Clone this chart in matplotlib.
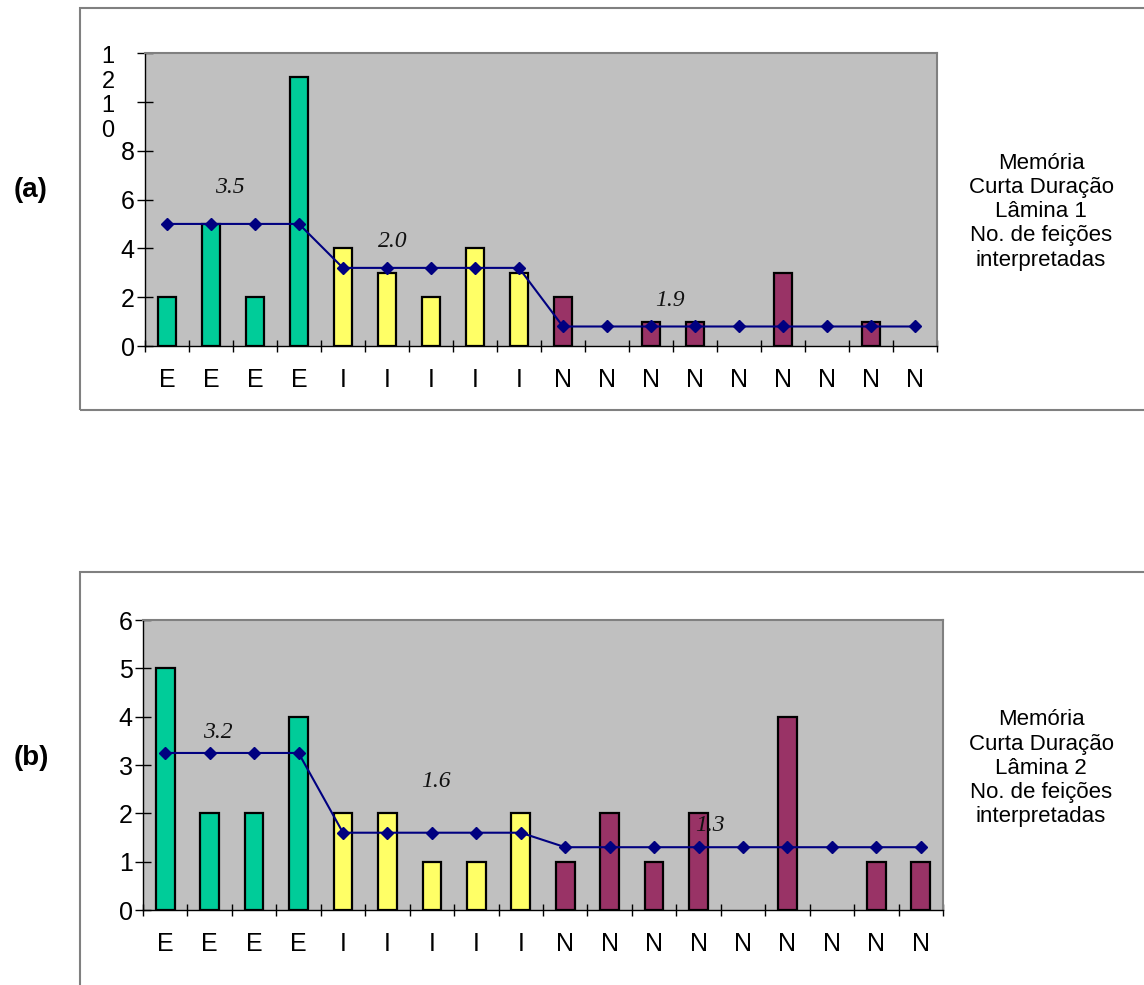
import numpy as np
import matplotlib.pyplot as plt
from matplotlib.patches import Rectangle
import matplotlib.transforms as mtransforms

plt.rcParams['font.family'] = ['Liberation Sans', 'DejaVu Sans']

# categories shared by both slides
cats = ['E', 'E', 'E', 'E', 'I', 'I', 'I', 'I', 'I',
        'N', 'N', 'N', 'N', 'N', 'N', 'N', 'N', 'N']

# Lâmina 1
vals1 = [2, 5, 2, 11, 4, 3, 2, 4, 3, 2, 0, 1, 1, 0, 3, 0, 1, 0]
mean1 = [5.0, 5.0, 5.0, 5.0, 3.2, 3.2, 3.2, 3.2, 3.2,
         0.8, 0.8, 0.8, 0.8, 0.8, 0.8, 0.8, 0.8, 0.8]
notes1 = ['3.5', '2.0', '1.9']
notes1_xy = [(1.43, 6.5), (5.14, 4.3), (11.43, 1.85)]
yticks1 = [0, 2, 4, 6, 8, 10, 12]
ylabels1 = ['0', '2', '4', '6', '8', '1\n0', '1\n2']

# Lâmina 2
vals2 = [5, 2, 2, 4, 2, 2, 1, 1, 2, 1, 2, 1, 2, 0, 4, 0, 1, 1]
mean2 = [3.25, 3.25, 3.25, 3.25, 1.6, 1.6, 1.6, 1.6, 1.6,
         1.3, 1.3, 1.3, 1.3, 1.3, 1.3, 1.3, 1.3, 1.3]
notes2 = ['3.2', '1.6', '1.3']
notes2_xy = [(1.19, 3.68), (6.09, 2.65), (12.26, 1.74)]
yticks2 = [0, 1, 2, 3, 4, 5, 6]

group_colors = {'E': '#00CC99', 'I': '#FFFF66', 'N': '#993366'}


def draw_panel(ax, vals, mean, notes, notes_xy, yticks):
    x = np.arange(len(cats))
    ax.set_facecolor('#C0C0C0')
    # empty bars get no outline
    lw = [1.6 if v > 0 else 0 for v in vals]
    ax.bar(x, vals, width=0.42, color=[group_colors[c] for c in cats],
           edgecolor='black', linewidth=lw, zorder=2)
    ax.plot(x, mean, color='#000080', linewidth=1.5, marker='D',
            markersize=6.5, zorder=3)
    for t, (tx, ty) in zip(notes, notes_xy):
        ax.text(tx, ty, t, fontsize=17, style='italic',
                family=['Liberation Serif', 'DejaVu Serif'],
                ha='center', va='center', color='#111111')
    ax.set_xlim(-0.5, len(cats) - 0.5)
    ax.set_ylim(yticks[0], yticks[-1])
    ax.set_xticks(x)
    ax.set_xticklabels(cats, fontsize=18)
    ax.set_xticks(np.arange(-0.5, len(cats), 1), minor=True)
    ax.tick_params(axis='x', which='major', length=0, pad=16)
    ax.tick_params(axis='x', which='minor', direction='inout', length=9,
                   width=1)
    ax.set_yticks(yticks)
    ax.tick_params(axis='y', direction='inout', length=11, width=1,
                   labelsize=18, pad=2)
    for s in ['top', 'right']:
        ax.spines[s].set_color('#808080')
        ax.spines[s].set_linewidth(1.5)
    for s in ['left', 'bottom']:
        ax.spines[s].set_color('black')
        ax.spines[s].set_linewidth(1)


fig = plt.figure(figsize=(11.44, 9.85), dpi=100)

# outer frames
fig.add_artist(Rectangle((0.0699, 0.5838), 0.96, 0.4081, transform=fig.transFigure,
                         fill=False, edgecolor='#808080', linewidth=1.5))
fig.add_artist(Rectangle((0.0699, -0.05), 0.96, 0.4693, transform=fig.transFigure,
                         fill=False, edgecolor='#808080', linewidth=1.5))

ax1 = fig.add_axes([0.1267, 0.6487, 0.6923, 0.2975])
draw_panel(ax1, vals1, mean1, notes1, notes1_xy, yticks1)
# two-digit labels wrap onto two lines and sit below their tick
ax1.set_yticklabels([s if '\n' not in s else '' for s in ylabels1])
wrap_tr = mtransforms.blended_transform_factory(fig.transFigure, ax1.transData)
shift = mtransforms.ScaledTranslation(0, 5 / 72, fig.dpi_scale_trans)
for yv, s in zip(yticks1, ylabels1):
    if '\n' in s:
        ax1.text(0.0945, yv, s, transform=wrap_tr + shift, ha='center',
                 va='top', fontsize=17, linespacing=1.2, clip_on=False)

ax2 = fig.add_axes([0.125, 0.0761, 0.6993, 0.2944])
draw_panel(ax2, vals2, mean2, notes2, notes2_xy, yticks2)

side = 'Memória\nCurta Duração\nLâmina {}\nNo. de feições\ninterpretadas'
fig.text(0.91, 0.785, side.format(1), ha='center', va='center', fontsize=16,
         linespacing=1.2)
fig.text(0.91, 0.22, side.format(2), ha='center', va='center', fontsize=16,
         linespacing=1.2)
fig.text(0.027, 0.807, '(a)', ha='center', va='center', fontsize=20,
         fontweight='bold')
fig.text(0.027, 0.23, '(b)', ha='center', va='center', fontsize=20,
         fontweight='bold')

fig.savefig('out.png', dpi=100)
